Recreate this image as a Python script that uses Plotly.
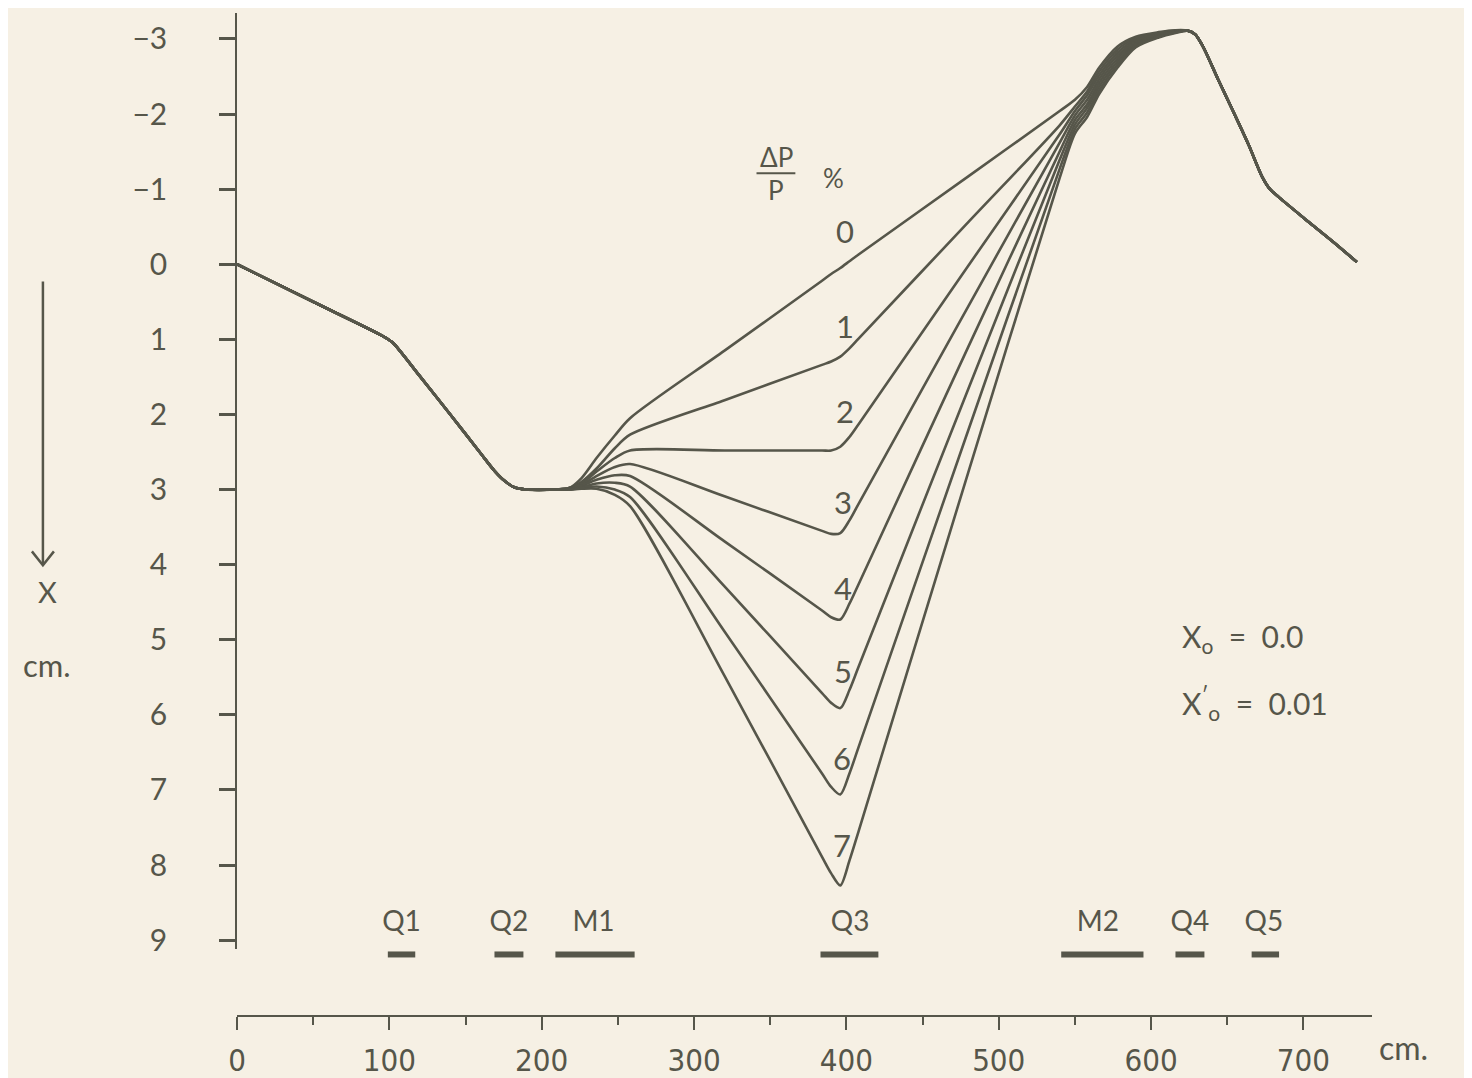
import plotly.graph_objects as go

# ---------------- data ----------------
# common start of all orbits (s in cm, X in cm)
HEAD_X = [0, 50, 96, 102, 108, 120, 140, 160, 169, 176, 182, 190]
HEAD_Y = [0, 0.5, 0.96, 1.04, 1.18, 1.49, 2.0, 2.52, 2.75, 2.89, 2.97, 3.0]

# dispersed part, one list per ΔP/P (%)
FAN_X = [209, 218, 226, 236, 248, 258, 320, 384, 390, 396, 402, 408, 480, 540, 550, 558, 566, 578, 590, 605, 616]
FAN_Y = {
    0: [3.0, 2.98, 2.85, 2.58, 2.28, 2.05, 1.15, 0.22, 0.13, 0.05, -0.04, -0.13, -1.17, -2.04, -2.19, -2.36, -2.62, -2.90, -3.03, -3.09, -3.115],
    1: [3.0, 2.98, 2.90, 2.72, 2.45, 2.27, 1.81, 1.34, 1.295, 1.23, 1.12, 0.99, -0.56, -1.85, -2.10, -2.30, -2.57, -2.86, -3.01, -3.08, -3.11],
    2: [3.0, 2.98, 2.92, 2.76, 2.58, 2.48, 2.48, 2.48, 2.48, 2.43, 2.30, 2.13, 0.02, -1.73, -2.04, -2.25, -2.52, -2.82, -2.99, -3.07, -3.105],
    3: [3.0, 2.99, 2.94, 2.82, 2.70, 2.66, 3.09, 3.55, 3.59, 3.58, 3.41, 3.19, 0.56, -1.62, -1.98, -2.19, -2.47, -2.78, -2.97, -3.06, -3.10],
    4: [3.0, 2.99, 2.95, 2.87, 2.81, 2.82, 3.69, 4.61, 4.70, 4.73, 4.52, 4.26, 1.10, -1.50, -1.92, -2.13, -2.42, -2.74, -2.95, -3.05, -3.095],
    5: [3.0, 3.0, 2.97, 2.92, 2.91, 2.96, 4.29, 5.71, 5.84, 5.91, 5.67, 5.36, 1.66, -1.39, -1.86, -2.08, -2.37, -2.70, -2.93, -3.04, -3.09],
    6: [3.0, 3.0, 2.98, 2.96, 3.00, 3.10, 4.89, 6.78, 6.96, 7.06, 6.78, 6.43, 2.21, -1.27, -1.80, -2.02, -2.32, -2.66, -2.91, -3.03, -3.085],
    7: [3.0, 3.0, 2.99, 2.99, 3.07, 3.22, 5.48, 7.89, 8.11, 8.27, 7.94, 7.55, 2.77, -1.15, -1.74, -1.96, -2.27, -2.62, -2.89, -3.02, -3.08],
}

# common end of all orbits
TAIL_X = [624, 629, 634, 644, 654, 664, 673, 678, 684, 700, 720, 735]
TAIL_Y = [-3.11, -3.06, -2.90, -2.46, -2.03, -1.59, -1.16, -1.0, -0.89, -0.62, -0.29, -0.03]

# ΔP/P label positions
DP_LABELS = ["0", "1", "2", "3", "4", "5", "6", "7"]
DP_LABEL_X = [399, 399, 399, 398, 398, 398, 397, 397]
DP_LABEL_Y = [-0.44, 0.82, 1.96, 3.16, 4.31, 5.42, 6.57, 7.73]

# magnet elements (start, end in cm)
ELEMENTS = ["Q1", "Q2", "M1", "Q3", "M2", "Q4", "Q5"]
ELEM_START = [99, 169, 209, 383, 541, 616, 666]
ELEM_END = [117, 188, 261, 421, 595, 635, 684]
ELEM_LABEL_X = [108, 178.5, 234, 402.5, 565, 625.5, 674]
ELEM_BAR_Y = 9.19
ELEM_LABEL_Y = 8.79

Y_TICKS = [-3, -2, -1, 0, 1, 2, 3, 4, 5, 6, 7, 8, 9]
Y_TICK_TEXT = ["\u22123", "\u22122", "\u22121", "0", "1", "2", "3", "4", "5", "6", "7", "8", "9"]
X_TICKS = [0, 100, 200, 300, 400, 500, 600, 700]

# ---------------- style ----------------
BG = "#f6f0e4"
INK = "rgb(86,86,74)"
TXT = "rgb(86,86,74)"
GEO = "Lato, 'Open Sans', 'DejaVu Sans', sans-serif"
NARROW = "'Liberation Sans Narrow', 'DejaVu Sans Condensed', Roboto, sans-serif"

fig = go.Figure()

for k in range(8):
    fig.add_trace(go.Scatter(
        x=HEAD_X + FAN_X + TAIL_X,
        y=HEAD_Y + FAN_Y[k] + TAIL_Y,
        yaxis="y2",
        mode="lines",
        line=dict(color=INK, width=2.6, shape="spline", smoothing=0.8),
        hoverinfo="skip", showlegend=False,
    ))

for s, e in zip(ELEM_START, ELEM_END):
    fig.add_trace(go.Scatter(
        x=[s, e], y=[ELEM_BAR_Y, ELEM_BAR_Y], yaxis="y2",
        mode="lines", line=dict(color=INK, width=6),
        hoverinfo="skip", showlegend=False,
    ))
fig.add_trace(go.Scatter(
    x=ELEM_LABEL_X, y=[ELEM_LABEL_Y] * len(ELEMENTS), yaxis="y2",
    mode="text", text=ELEMENTS,
    textfont=dict(family=GEO, size=28, color=TXT),
    hoverinfo="skip", showlegend=False,
))
# invisible trace that binds the visible left axis
fig.add_trace(go.Scatter(x=[0], y=[0], mode="markers", marker=dict(opacity=0),
                         hoverinfo="skip", showlegend=False))

annotations = []
for t, x, y in zip(DP_LABELS, DP_LABEL_X, DP_LABEL_Y):
    annotations.append(dict(x=x, y=y, xref="x", yref="y2", text=t, showarrow=False,
                            font=dict(family=GEO, size=31, color=TXT)))

annotations += [
    dict(x=354, y=-1.43, xref="x", yref="y2", text="\u0394P", showarrow=False,
         font=dict(family=GEO, size=26, color=TXT)),
    dict(x=354, y=-0.99, xref="x", yref="y2", text="P", showarrow=False,
         font=dict(family=GEO, size=26, color=TXT)),
    dict(x=391.5, y=-1.15, xref="x", yref="y2", text="%", showarrow=False,
         font=dict(family=GEO, size=26, color=TXT)),
    dict(x=619, y=4.98, xref="x", yref="y2", xanchor="left",
         text="X<sub>o</sub>  =  0.0", showarrow=False,
         font=dict(family=GEO, size=30, color=TXT)),
    dict(x=619, y=5.84, xref="x", yref="y2", xanchor="left",
         text="X<sup>\u2032</sup><sub>o</sub>  =  0.01", showarrow=False,
         font=dict(family=GEO, size=30, color=TXT)),
    dict(x=-0.1674, y=0.4229, xref="paper", yref="paper", text="X", showarrow=False,
         xanchor="center", yanchor="middle",
         font=dict(family=GEO, size=29, color=TXT)),
    dict(x=-0.1674, y=0.3493, xref="paper", yref="paper", text="cm.", showarrow=False,
         xanchor="center", yanchor="middle",
         font=dict(family=GEO, size=31, color=TXT)),
    dict(x=1.028, y=-0.032, xref="paper", yref="paper", text="cm.", showarrow=False,
         xanchor="center", yanchor="middle", font=dict(family=GEO, size=32, color=TXT)),
]

shapes = [
    dict(type="line", xref="x", yref="y2", x0=341, x1=366.5, y0=-1.21, y1=-1.21,
         line=dict(color=INK, width=2)),
    dict(type="line", xref="paper", yref="paper", x0=-0.171, x1=-0.171, y0=0.732, y1=0.449,
         line=dict(color=INK, width=2.5)),
    dict(type="path", xref="paper", yref="paper",
         path="M -0.1807 0.4627 L -0.171 0.4488 L -0.1613 0.4627",
         line=dict(color=INK, width=2.5)),
]

fig.update_layout(
    width=1456, height=1075,
    margin=dict(l=229, r=92, t=5, b=50),
    paper_bgcolor=BG, plot_bgcolor=BG,
    showlegend=False,
    annotations=annotations,
    shapes=shapes,
    xaxis=dict(
        range=[0, 745], domain=[0, 1], anchor="free", position=0,
        showline=True, linewidth=3, linecolor=INK,
        showgrid=False, zeroline=False,
        ticks="outside", tickvals=X_TICKS, ticklen=13, tickwidth=2.2, tickcolor=INK,
        minor=dict(dtick=50, tick0=0, ticks="outside", ticklen=8, tickwidth=2, tickcolor=INK),
        tickfont=dict(family=NARROW, size=31, color=TXT),
        ticklabelstandoff=4,
    ),
    yaxis=dict(
        range=[9.12, -3.345], domain=[0.0657, 1], anchor="free", position=0,
        showline=True, linewidth=3.5, linecolor=INK,
        showgrid=False, zeroline=False,
        ticks="outside", tickvals=Y_TICKS, ticktext=Y_TICK_TEXT,
        ticklen=16, tickwidth=2.5, tickcolor=INK,
        tickfont=dict(family=GEO, size=30, color=TXT),
        ticklabelstandoff=46,
    ),
    yaxis2=dict(
        range=[9.996, -3.345], domain=[0, 1], anchor="free", position=0,
        visible=False, showgrid=False, zeroline=False,
    ),
)

fig.write_html("out.html")
